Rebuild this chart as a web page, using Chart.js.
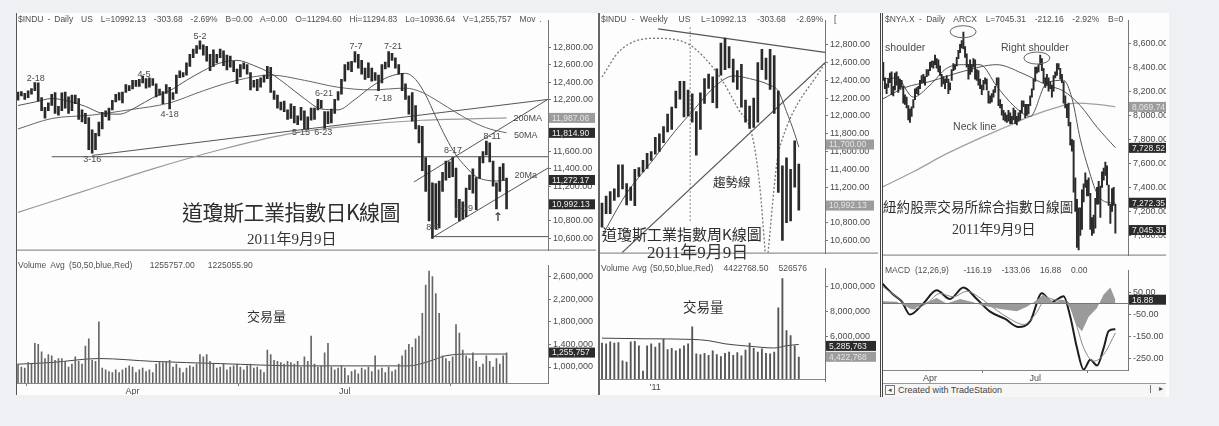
<!DOCTYPE html>
<html>
<head>
<meta charset="utf-8">
<script src="https://cdn.jsdelivr.net/npm/chart.js@4.4.1/dist/chart.umd.min.js"></script>
<style>
body { margin: 0; width: 1219px; height: 426px; background: #eef0f4; position: relative; overflow: hidden; font-family: "Liberation Sans", Arial, sans-serif; }
.pane { position: absolute; background: #fdfdfd; }
canvas { position: absolute; }
.t { position: absolute; white-space: nowrap; color: #4a4a4a; line-height: 1; }
.hdr { font-size: 8.5px; color: #505050; }
.big { font-family: "Noto Sans CJK TC", sans-serif; color: #2e2e2e; }
.date { font-family: "Liberation Serif", "Noto Sans CJK TC", serif; color: #333; }
</style>
</head>
<body>
<div class="pane" style="left:16px;top:13px;width:581px;height:382px;border-left:1px solid #555;border-right:1px solid #666"></div>
<div class="pane" style="left:599px;top:13px;width:280px;height:382px;border-left:1px solid #666"></div>
<div class="pane" style="left:880px;top:13px;width:286px;height:384px;border-left:3px double #444"></div>

<canvas id="dowPrice" width="579" height="245" style="left:17px;top:13px"></canvas>
<canvas id="dowVol" width="579" height="137" style="left:17px;top:258px"></canvas>
<canvas id="wkPrice" width="278" height="248" style="left:600px;top:13px"></canvas>
<canvas id="wkVol" width="278" height="134" style="left:600px;top:261px"></canvas>
<canvas id="nyaPrice" width="283" height="250" style="left:883px;top:13px"></canvas>
<canvas id="nyaMacd" width="283" height="120" style="left:883px;top:263px"></canvas>

<div class="t hdr" style="left:18px;top:15px;word-spacing:1.6px">$INDU - Daily&nbsp; US&nbsp; L=10992.13&nbsp; -303.68&nbsp; -2.69%&nbsp; B=0.00&nbsp; A=0.00&nbsp; O=11294.60&nbsp; Hi=11294.83&nbsp; Lo=10936.64&nbsp; V=1,255,757&nbsp; Mov .</div>
<div class="t hdr" style="left:18px;top:261px;word-spacing:2px">Volume Avg (50,50,blue,Red)&nbsp;&nbsp;&nbsp; 1255757.00&nbsp;&nbsp; 1225055.90</div>
<div class="t hdr" style="left:601px;top:15px;word-spacing:3px">$INDU - Weekly&nbsp; US&nbsp; L=10992.13&nbsp; -303.68&nbsp; -2.69%&nbsp; [</div>
<div class="t hdr" style="left:601px;top:264px;word-spacing:1px">Volume Avg (50,50,blue,Red)&nbsp;&nbsp; 4422768.50&nbsp;&nbsp; 526576</div>
<div class="t hdr" style="left:885px;top:15px;word-spacing:2px">$NYA.X - Daily&nbsp; ARCX&nbsp; L=7045.31&nbsp; -212.16&nbsp; -2.92%&nbsp; B=0</div>
<div class="t hdr" style="left:885px;top:266px;word-spacing:2.5px">MACD (12,26,9)&nbsp;&nbsp; -116.19&nbsp; -133.06&nbsp; 16.88&nbsp; 0.00</div>

<div class="t big" style="left:182px;top:201px;font-size:21px;letter-spacing:-0.5px">道瓊斯工業指數日K線圖</div>
<div class="t date" style="left:247px;top:232px;font-size:15px">2011年9月9日</div>
<div class="t big" style="left:247px;top:309px;font-size:13px">交易量</div>

<div class="t big" style="left:602px;top:226px;font-size:15px">道瓊斯工業指數周K線圖</div>
<div class="t date" style="left:647px;top:244px;font-size:17px">2011年9月9日</div>
<div class="t big" style="left:713px;top:176px;font-size:12.5px">趨勢線</div>
<div class="t big" style="left:683px;top:300px;font-size:13.5px">交易量</div>

<div class="t big" style="left:883px;top:200px;font-size:13.6px">紐約股票交易所綜合指數日線圖</div>
<div class="t date" style="left:952px;top:223px;font-size:14px">2011年9月9日</div>

<div style="position:absolute;left:883px;top:383px;width:283px;height:13px;border-top:1px solid #999;background:#f6f6f6"></div>
<div class="t" style="left:885px;top:385px;width:8px;height:8px;border:1px solid #777;font-size:7px;text-align:center">◂</div>
<div class="t" style="left:898px;top:386px;font-size:9px;color:#444">Created with TradeStation</div>
<div class="t" style="left:1150px;top:385px;width:12px;height:8px;border-left:1px solid #777;font-size:8px;text-align:right">▸</div>

<script>
// ---------- $INDU daily bars, 2011-02-11 .. 2011-09-09 ----------
const dowLow = [
  12190,12240,12200,12220,12260,12300,12180,12070,11985,12070,
  12130,12040,12020,12070,12100,12040,12070,12150,11970,11940,
  11920,11620,11580,11620,11780,11860,12000,11960,12080,12170,
  12190,12160,12280,12300,12320,12350,12350,12390,12330,12340,
  12360,12230,12250,12150,12270,12090,12200,12270,12450,12460,
  12480,12580,12680,12730,12780,12710,12640,12530,12580,12620,
  12680,12590,12540,12570,12520,12380,12460,12550,12490,12310,
  12340,12300,12340,12400,12440,12280,12200,12100,12080,12060,
  11970,11980,11930,11910,11960,11860,11860,11960,11970,12080,
  12100,11870,11920,11930,12040,12190,12260,12410,12540,12520,
  12630,12560,12490,12430,12450,12410,12420,12300,12390,12550,
  12570,12650,12560,12490,12300,12200,12030,11950,11860,11700,
  11380,11140,10800,10600,10710,10720,11140,11270,11300,11310,
  10840,10800,10820,10850,11160,11120,10930,11290,11470,11560,
  11480,11200,10940,11140,11270,10940
];
const dowHigh = [
  12285,12290,12270,12300,12325,12395,12390,12220,12110,12160,
  12260,12280,12120,12275,12285,12230,12250,12250,12210,12080,
  12040,11990,11850,11810,11940,12050,12070,12100,12190,12260,
  12280,12285,12370,12360,12420,12420,12430,12470,12440,12450,
  12440,12380,12320,12290,12370,12340,12280,12480,12530,12510,
  12620,12720,12780,12820,12876,12830,12810,12720,12770,12720,
  12780,12760,12710,12700,12640,12550,12600,12620,12600,12510,
  12420,12430,12450,12480,12580,12570,12300,12250,12170,12180,
  12080,12150,12120,12010,12110,12070,12000,12100,12100,12200,
  12190,12060,12060,12090,12200,12290,12430,12600,12630,12640,
  12750,12720,12650,12560,12620,12560,12510,12480,12600,12630,
  12750,12730,12680,12600,12500,12380,12240,12280,12130,11900,
  11890,11530,11440,11240,11230,11260,11360,11490,11480,11530,
  11410,11050,11020,11180,11330,11400,11300,11540,11600,11720,
  11700,11490,11240,11420,11460,11295
];
// volume, thousands of shares
const dowVol = [
  1050,1000,980,1080,1050,1420,1400,1270,1150,1220,
  1200,1120,1150,1150,1100,1000,1050,1180,1100,1050,
  1370,1500,1120,1100,1800,980,950,920,900,950,
  900,950,980,1020,1000,900,950,980,920,950,
  900,1050,1100,1080,1100,1120,1000,1050,980,900,
  980,1020,1000,1050,1220,1180,1220,1100,1050,980,
  1000,1050,950,1000,1020,1050,1000,950,1020,1050,
  980,1000,950,900,1300,1220,1120,1100,1080,1050,
  1100,1080,1050,1100,1000,1180,1100,1550,1050,1000,
  1020,1250,1420,1000,950,980,1020,980,850,920,
  950,880,980,950,1000,920,1200,950,980,900,
  1000,920,950,1050,1200,1300,1400,1350,1500,1550,
  1950,2450,2700,2600,2300,1950,1200,1150,1100,1180,
  1750,1600,1300,1200,1150,1250,1100,1000,1050,1200,
  1100,1000,1150,1050,1200,1250
];
const dowVolAvg = [[0,1050],[10,1080],[24,1150],[40,1100],[60,1060],[84,1020],[100,1020],[116,1020],[122,1100],[127,1200],[135,1230],[145,1230]];
const dowMa20 = [[0,12130],[5,12170],[10,12210],[15,12180],[20,12120],[25,12040],[30,12030],[35,12110],[40,12220],[45,12300],[50,12420],[55,12530],[60,12620],[65,12650],[70,12590],[75,12500],[80,12360],[85,12210],[90,12090],[95,12080],[100,12200],[105,12350],[110,12460],[115,12500],[118,12430],[121,12250],[124,12000],[127,11760],[130,11560],[133,11420],[136,11310],[139,11270],[142,11260],[145,11272]];
const dowMa50 = [[0,11860],[10,11980],[22,12020],[33,12080],[45,12160],[55,12300],[65,12420],[75,12480],[85,12420],[95,12340],[105,12310],[115,12330],[120,12280],[125,12170],[130,12050],[135,11940],[140,11860],[145,11815]];
const dowMa200 = [[0,10900],[20,11150],[40,11400],[60,11620],[80,11800],[100,11900],[120,11960],[145,11987]];
const dowLines = [
  [[10,11540],[157.3,11540]],
  [[22,11555],[157.3,12200]],
  [[117.5,11249],[157.3,12202]],
  [[123.4,10620],[157.3,11410]],
  [[123.4,10620],[157.3,10620]]
];
const dowNotes = [['2-18',5.3,12440],['3-16',22,11509],['4-5',37.4,12483],['4-18',45,12028],['5-2',54,12927],
  ['5-15',84,11822],['6-23',90.6,11822],['6-21',90.8,12266],['7-7',100.3,12808],['7-21',111.3,12808],['7-18',108.3,12212],
  ['200MA',151.3,11980],['50MA',150.7,11780],['8-11',140.7,11768],['8-17',129.1,11606],['20Ma',150.7,11324],
  ['8-19',132.4,10940],['8-9',123.1,10723]];
const dowBoxes = [[11987.06,'11,987.06',0],[11814.90,'11,814.90',1],[11272.17,'11,272.17',1],[10992.13,'10,992.13',1]];
const dowTicks = [10600,10800,11000,11200,11400,11600,11800,12000,12200,12400,12600,12800];
const dowVolTicks = [1000,1400,1800,2200,2600];
const dowMonthPos = [34, 97];
const dowMonthLbl = ['Apr', 'Jul'];

// ---------- $INDU weekly bars, week of 2010-10-08 .. 2011-09-09 ----------
const wkLow = [10750,10900,10900,11050,11090,11180,11000,11050,10990,11320,11370,11410,11500,11570,11600,11700,11820,11850,12090,12190,11990,12000,11930,11560,11850,12140,12310,12150,12090,12460,12520,12540,12380,12300,12100,11930,11860,11870,11930,12520,12410,12300,12030,11140,10600,10800,10820,11200,10940];
const wkHigh = [11020,11100,11150,11180,11450,11450,11240,11200,11400,11420,11500,11580,11600,11760,11800,11880,12020,12100,12280,12390,12390,12290,12250,12050,12260,12420,12470,12440,12530,12820,12876,12780,12640,12510,12580,12180,12110,12200,12600,12750,12650,12750,12680,12280,11440,11530,11400,11720,11460];
const wkVol = [5500,5450,5600,5500,5550,4100,4000,5600,5650,5300,3300,5300,5450,5200,5500,5800,5000,5100,4900,5050,5300,5450,6800,4650,4600,4700,4550,4900,4600,4450,4700,4800,4550,4750,4500,4950,5500,5100,4800,5050,4700,4650,4800,8300,10600,6500,6100,5300,4400];
const wkVolAvg = [[0,5900],[10,5850],[22,5800],[26,5700],[30,5450],[36,5260],[42,5120],[45,5300],[48,5400]];
const wkMa = [[0,10650],[6,11130],[12,11480],[18,11840],[22,12050],[28,12350],[32,12450],[36,12420],[41,12345],[43,12280],[45,12050],[47,11800],[48,11650]];
const wkTop = [[13.7,12980],[54.4,12715]];
const wkTrend = [[4.9,10463],[54.4,12600]];
const wkArc = [[0,12440],[4.4,12737],[12.9,12874],[21,12810],[25.1,12650],[29.3,12400],[33.2,12080],[36.6,11785],[38.5,11200],[39.8,10463]];
const wkArc2 = [[40.5,10463],[42.7,11490],[43.9,11730],[54.4,12600]];
const wkVert = [[21.5,13000],[21.5,10812]];
const wkBoxes = [[11679,'11,700.00',0],[10992.13,'10,992.13',0]];
const wkVolBoxes = [[5285.763,'5,285,763',1],[4422.768,'4,422,768',0]];
const wkTicks = [10600,10800,11000,11200,11400,11600,11800,12000,12200,12400,12600,12800];
const wkVolTicks = [6000, 8000, 10000];
const wkYearPos = [13];
const wkYearLbl = ["'11"];

// ---------- $NYA.X daily bars, 2011-02-17 .. 2011-09-09 ----------
const nyaLow = [
  8400,8420,8290,8220,8180,8230,8270,8170,8160,8210,
  8250,8190,8220,8230,8100,8090,8060,7960,7940,7990,
  8060,8130,8180,8170,8220,8270,8270,8250,8320,8330,
  8370,8400,8390,8420,8390,8360,8330,8240,8260,8220,
  8270,8180,8210,8290,8370,8380,8410,8470,8520,8560,
  8550,8480,8400,8300,8340,8360,8400,8300,8290,8250,
  8220,8170,8210,8260,8210,8100,8100,8110,8150,8190,
  8250,8080,8060,8000,7960,7950,7940,7950,7930,7930,
  7960,7930,7920,7950,7960,8020,8070,7980,8000,8010,
  8080,8150,8210,8280,8350,8360,8420,8370,8270,8230,
  8250,8200,8220,8150,8200,8310,8330,8380,8300,8270,
  8100,8060,7980,7910,7750,7700,7360,7200,6900,6880,
  7000,7050,7280,7400,7330,7330,7050,7000,7020,7060,
  7260,7260,7150,7400,7460,7500,7420,7250,7100,7200,
  7250,7020
];
const nyaHigh = [
  8470,8480,8440,8310,8260,8300,8350,8360,8240,8350,
  8360,8320,8300,8290,8240,8170,8150,8080,8050,8070,
  8130,8220,8230,8240,8290,8330,8340,8320,8380,8380,
  8440,8450,8450,8500,8470,8460,8410,8340,8320,8300,
  8330,8300,8270,8380,8430,8420,8480,8540,8590,8620,
  8690,8570,8510,8420,8460,8420,8470,8460,8380,8370,
  8300,8250,8290,8310,8300,8200,8160,8180,8210,8240,
  8310,8310,8130,8090,8040,8020,8000,8040,8020,7990,
  8060,8040,7990,8020,8040,8120,8120,8090,8090,8090,
  8160,8220,8300,8400,8400,8420,8500,8470,8390,8310,
  8340,8310,8280,8250,8330,8360,8430,8430,8390,8340,
  8280,8160,8090,8100,7940,7800,7790,7480,7300,7230,
  7230,7380,7430,7520,7460,7480,7350,7150,7170,7310,
  7400,7450,7410,7530,7560,7610,7580,7420,7260,7390,
  7400,7260
];
const nyaMa200 = [[1,7400],[20,7530],[40,7680],[60,7810],[75,7900],[90,7990],[105,8060],[117,8100],[130,8090],[141,8070]];
const nyaMa50 = [[1,8130],[15,8230],[30,8280],[50,8365],[70,8420],[85,8350],[100,8250],[110,8200],[120,8080],[130,7900],[141,7730]];
const nyaMa20 = [[1,8300],[10,8310],[20,8150],[30,8250],[40,8390],[50,8420],[60,8420],[70,8240],[80,8080],[90,7990],[100,8270],[110,8290],[115,8140],[120,7800],[125,7550],[130,7350],[135,7280],[141,7270]];
const nyaMacd = [[1,93],[8,40],[13,10],[18,-50],[26,0],[34,59],[42,20],[50,72],[58,20],[66,-37],[75,-70],[83,-106],[90,-80],[97,46],[103,7],[110,33],[114,-60],[118,-200],[122,-298],[126,-254],[130,-280],[134,-200],[137,-124],[141,-116]];
const nyaSignal = [[1,80],[10,30],[20,-25],[28,0],[36,45],[44,30],[52,55],[60,25],[68,-20],[78,-70],[86,-95],[93,-50],[100,25],[106,15],[112,10],[117,-80],[122,-200],[128,-260],[134,-230],[141,-133]];
const nyaHist = [[1,10],[10,8],[16,-15],[20,-25],[28,5],[34,25],[40,0],[48,20],[56,5],[62,-10],[72,-25],[82,-35],[88,-15],[93,10],[98,40],[104,5],[110,15],[114,-20],[118,-100],[121,-125],[125,-60],[130,-20],[134,40],[138,72],[141,17]];
const nyaNotes = [['shoulder',3.1,8561],['Right shoulder',72.5,8561],['Neck line',43.8,7904]];
const nyaRings = [[49.8,8694],[94,8475]];
const nyaBoxes = [[8069,'8,069.74',0],[7728.5,'7,728.52',1],[7272.3,'7,272.35',1],[7045.31,'7,045.31',1]];
const nyaTicks = [7000,7200,7400,7600,7800,8000,8200,8400,8600];
const macdTicks = [50,-50,-150,-250];
const macdBoxes = [[16.88,'16.88',1]];
const nyaMonthPos = [30, 93];
const nyaMonthLbl = ['Apr', 'Jul'];

// ---------- helpers ----------
const ink = '#2a2a2a';
const pts = arr => arr.map(([x, y]) => ({x, y}));
const fmt2 = v => v.toLocaleString('en-US', {minimumFractionDigits: 2, maximumFractionDigits: 2});
const fmtK = v => (v * 1000).toLocaleString('en-US');

function yRight(min, max, ticks, fmt, width) {
  return {
    position: 'right', min, max,
    afterBuildTicks: s => { s.ticks = ticks.map(v => ({value: v})); },
    afterFit: s => { s.width = width; },
    ticks: {callback: fmt, color: '#4a4a4a', font: {size: 9, family: 'Liberation Sans'}, padding: 2, autoSkip: false},
    grid: {drawOnChartArea: false, tickLength: 3, color: '#777'},
    border: {color: '#777'}
  };
}
function xHidden(min, max) {
  return {type: 'linear', min, max, display: false, offset: false};
}
function xMonths(min, max, pos, lbl, h) {
  return {
    type: 'linear', min, max, offset: false,
    afterBuildTicks: s => { s.ticks = pos.map(v => ({value: v})); },
    afterFit: s => { s.height = h; },
    ticks: {callback: v => lbl[pos.indexOf(v)], color: '#4a4a4a', font: {size: 9, family: 'Liberation Sans'}, padding: 0, maxRotation: 0, autoSkip: false},
    grid: {drawOnChartArea: false, tickLength: 3, color: '#777'},
    border: {color: '#888'}
  };
}
function rangeBars(lo, hi, first, w) {
  return {type: 'bar', data: lo.map((l, i) => ({x: i + first, y: [l, hi[i]]})), backgroundColor: ink, barThickness: w, grouped: false};
}
function volBars(v, w, col) {
  return {type: 'bar', data: v.map((y, x) => ({x, y})), backgroundColor: col, barThickness: w, grouped: false};
}
function line(arr, col, width, dash, smooth) {
  return {type: 'line', data: pts(arr), borderColor: col, borderWidth: width, borderDash: dash || [],
    pointRadius: 0, fill: false, cubicInterpolationMode: smooth ? 'monotone' : 'default', tension: 0};
}
function axisBoxes(chart, boxes, w) {
  const {ctx, chartArea: a, scales: {y}} = chart;
  ctx.font = '8.5px "Liberation Sans"';
  ctx.textAlign = 'left'; ctx.textBaseline = 'middle';
  boxes.forEach(([v, txt, dark]) => {
    const py = y.getPixelForValue(v);
    ctx.fillStyle = dark ? '#2b2b2b' : '#9c9c9c';
    ctx.fillRect(a.right + 1, py - 5, w, 10);
    ctx.fillStyle = dark ? '#eeeeee' : '#e4e4e4';
    ctx.fillText(txt, a.right + 4, py + 0.5);
  });
}
function notes(chart, list, font, align) {
  const {ctx, scales: {x, y}} = chart;
  ctx.font = font; ctx.fillStyle = '#4a4a4a';
  ctx.textAlign = align; ctx.textBaseline = 'middle';
  list.forEach(([t, i, v]) => ctx.fillText(t, x.getPixelForValue(i), y.getPixelForValue(v)));
}
function separator(chart) {
  const {ctx, chartArea: a} = chart;
  ctx.strokeStyle = '#777'; ctx.lineWidth = 1;
  ctx.beginPath(); ctx.moveTo(0, a.bottom - 0.5); ctx.lineTo(chart.width, a.bottom - 0.5); ctx.stroke();
}

function makeChart(id, datasets, scales, draw) {
  return new Chart(document.getElementById(id), {
    type: 'bar',
    data: {datasets},
    options: {
      responsive: false, animation: false, devicePixelRatio: 1,
      layout: {padding: 0},
      plugins: {legend: {display: false}, tooltip: {enabled: false}},
      scales
    },
    plugins: [{id: 'over_' + id, afterDraw: chart => { chart.ctx.save(); draw(chart); chart.ctx.restore(); }}]
  });
}

// ---------- left: daily Dow ----------
makeChart('dowPrice', [
  rangeBars(dowLow, dowHigh, 0, 2),
  line(dowMa20, '#555', 1, null, true),
  line(dowMa50, '#666', 1, null, true),
  line(dowMa200, '#9a9a9a', 1.2, null, true),
  ...dowLines.map(l => line(l, '#555', 1))
], {
  x: xHidden(-0.3, 157.3),
  y: yRight(10459, 13110, dowTicks, fmt2, 48)
}, chart => {
  notes(chart, dowNotes, '9px "Liberation Sans"', 'center');
  notes(chart, [['↑', 142.4, 10836]], 'bold 12px "DejaVu Sans"', 'center');
  separator(chart);
  axisBoxes(chart, dowBoxes, 46);
});

makeChart('dowVol', [
  volBars(dowVol, 1, '#666'),
  line(dowVolAvg, '#444', 1, null, true)
], {
  x: xMonths(-0.3, 157.3, dowMonthPos, dowMonthLbl, 12),
  y: yRight(716.7, 2800, dowVolTicks, fmtK, 48)
}, chart => {
  axisBoxes(chart, [[1255.757, '1,255,757', 1]], 46);
});

// ---------- middle: weekly Dow ----------
makeChart('wkPrice', [
  rangeBars(wkLow, wkHigh, 0, 2),
  line(wkMa, '#555', 1, null, true),
  line(wkTop, '#555', 1.3),
  line(wkTrend, '#555', 1.3),
  line(wkArc, '#777', 1.3, [2, 2], true),
  line(wkArc2, '#777', 1.3, [2, 2], true),
  line(wkVert, '#888', 1, [2, 2])
], {
  x: xHidden(-0.49, 54.39),
  y: yRight(10452, 13075, wkTicks, fmt2, 53)
}, chart => {
  separator(chart);
  axisBoxes(chart, wkBoxes, 48);
});

makeChart('wkVol', [
  volBars(wkVol, 1.2, '#555'),
  line(wkVolAvg, '#444', 1, null, true)
], {
  x: xMonths(-0.49, 54.39, wkYearPos, wkYearLbl, 16),
  y: yRight(2670, 11410, wkVolTicks, fmtK, 53)
}, chart => {
  axisBoxes(chart, wkVolBoxes, 50);
});

// ---------- right: NYSE composite ----------
makeChart('nyaPrice', [
  rangeBars(nyaLow, nyaHigh, 0, 1.3),
  line(nyaMa20, '#555', 1, null, true),
  line(nyaMa50, '#555', 1, null, true),
  line(nyaMa200, '#a0a0a0', 1.3, null, true)
], {
  x: xHidden(1.856, 148.56),
  y: yRight(6833, 8788, nyaTicks, fmt2, 38)
}, chart => {
  const {ctx, scales: {x, y}} = chart;
  notes(chart, nyaNotes, '10.5px "Liberation Sans"', 'left');
  ctx.strokeStyle = '#666'; ctx.lineWidth = 1;
  nyaRings.forEach(([i, v]) => {
    ctx.beginPath();
    ctx.ellipse(x.getPixelForValue(i), y.getPixelForValue(v), 13, 6, 0, 0, Math.PI * 2);
    ctx.stroke();
  });
  separator(chart);
  axisBoxes(chart, nyaBoxes, 40);
});

makeChart('nyaMacd', [
  {type: 'line', data: pts(nyaHist), borderWidth: 0, backgroundColor: '#9a9a9a', fill: 'origin', pointRadius: 0, tension: 0},
  line(nyaSignal, '#888', 1, null, true),
  line(nyaMacd, '#1e1e1e', 2, null, true)
], {
  x: xMonths(1.856, 148.56, nyaMonthPos, nyaMonthLbl, 13),
  y: yRight(-300, 149, macdTicks, v => v.toFixed(2), 38)
}, chart => {
  const {ctx, chartArea: a, scales: {y}} = chart;
  ctx.strokeStyle = '#777'; ctx.lineWidth = 1;
  const z = Math.round(y.getPixelForValue(0)) + 0.5;
  ctx.beginPath(); ctx.moveTo(a.left, z); ctx.lineTo(a.right, z); ctx.stroke();
  axisBoxes(chart, macdBoxes, 40);
});
</script>
</body>
</html>
